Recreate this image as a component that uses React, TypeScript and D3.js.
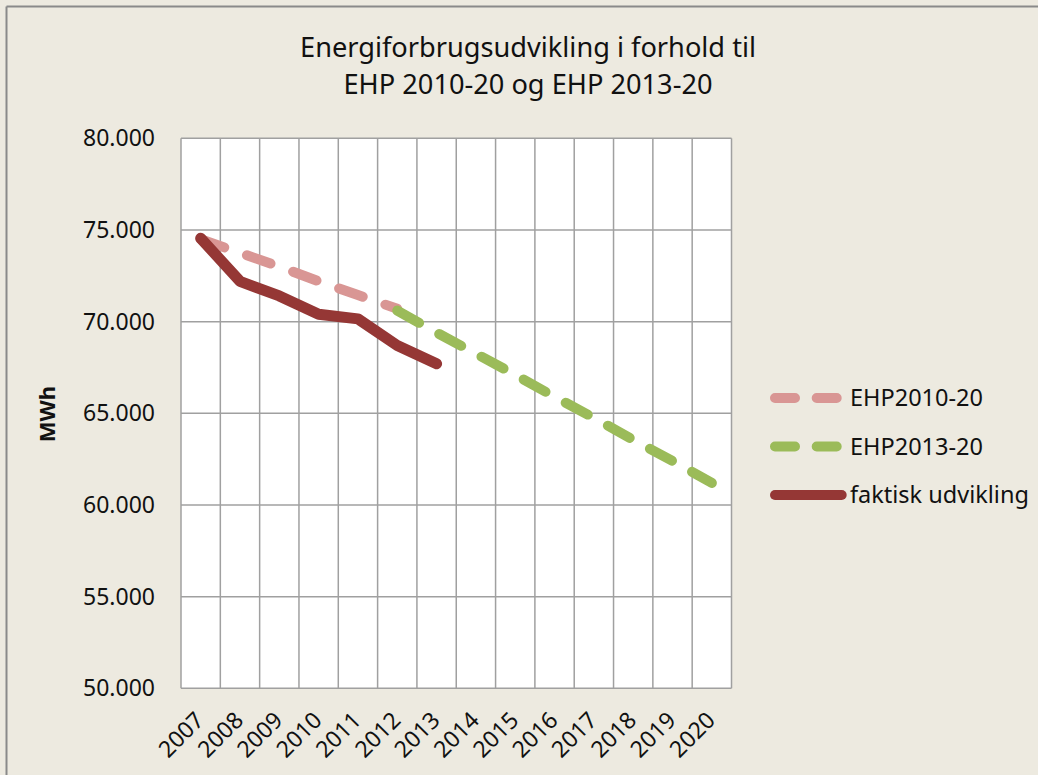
import * as d3 from "d3";

// category axis
const years = ["2007", "2008", "2009", "2010", "2011", "2012", "2013", "2014", "2015", "2016", "2017", "2018", "2019", "2020"];

// EHP2010-20 plan (2007-2012)
const ehp2010Years = ["2007", "2008", "2009", "2010", "2011", "2012"];
const ehp2010Values = [74500, 73750, 73000, 72200, 71450, 70700];

// EHP2013-20 plan (2012-2020)
const ehp2013Years = ["2012", "2013", "2014", "2015", "2016", "2017", "2018", "2019", "2020"];
const ehp2013Values = [70600, 69400, 68250, 67100, 65900, 64750, 63550, 62400, 61200];

// actual development (2007-2013)
const actualYears = ["2007", "2008", "2009", "2010", "2011", "2012", "2013"];
const actualValues = [74550, 72200, 71400, 70400, 70150, 68700, 67700];

const yTicks = [50000, 55000, 60000, 65000, 70000, 75000, 80000];

const titleLines = ["Energiforbrugsudvikling i forhold til", "EHP 2010-20 og EHP 2013-20"];

const legendItems = [
	{ label: "EHP2010-20", color: "#D99694", dash: "20 21.7" },
	{ label: "EHP2013-20", color: "#9BBB59", dash: "20 21.7" },
	{ label: "faktisk udvikling", color: "#953735", dash: null },
];

const W = 1038;
const H = 775;
const FONT = "'Noto Sans', sans-serif";

export default function App() {
	const plot = { left: 181, right: 731.5, top: 138.3, bottom: 688.3 };

	const x = d3.scaleBand<string>().domain(years).range([plot.left, plot.right]);
	const y = d3.scaleLinear().domain([50000, 80000]).range([plot.bottom, plot.top]);
	const cx = (yr: string) => (x(yr) ?? 0) + x.bandwidth() / 2;

	const line = d3
		.line<[string, number]>()
		.x((d) => cx(d[0]))
		.y((d) => y(d[1]));

	const fmt = (v: number) => d3.format(",")(v).replace(/,/g, ".");

	const vLines = years.map((yr) => x(yr) ?? 0).concat([plot.right]);

	return (
		<svg
			width={W}
			height={H}
			style={{ position: "absolute", left: 0, top: 0, background: "#EDEAE0" }}
			fontFamily={FONT}
		>
			<rect x={0} y={0} width={W} height={H} fill="#EDEAE0" />
			<line x1={6.5} y1={6.5} x2={W} y2={6.5} stroke="#8A8A8A" strokeWidth={2} />
			<line x1={6.5} y1={6.5} x2={6.5} y2={H} stroke="#8A8A8A" strokeWidth={2} />

			{titleLines.map((t, i) => (
				<text key={t} x={528} y={57 + i * 37} textAnchor="middle" fontSize={27.2} fill="#111">
					{t}
				</text>
			))}

			<rect
				x={plot.left}
				y={plot.top}
				width={plot.right - plot.left}
				height={plot.bottom - plot.top}
				fill="#fff"
			/>
			{vLines.map((vx, i) => (
				<line key={"v" + i} x1={vx} x2={vx} y1={plot.top} y2={plot.bottom} stroke="#A0A0A0" strokeWidth={1.5} />
			))}
			{yTicks.map((t) => (
				<line key={"h" + t} x1={plot.left} x2={plot.right} y1={y(t)} y2={y(t)} stroke="#A0A0A0" strokeWidth={1.5} />
			))}

			{yTicks.map((t) => (
				<text key={"yt" + t} x={155} y={y(t)} dy="0.35em" textAnchor="end" fontSize={23} fill="#111">
					{fmt(t)}
				</text>
			))}

			<text
				transform="translate(55,414) rotate(-90)"
				textAnchor="middle"
				fontSize={22}
				fontWeight="bold"
				fill="#111"
			>
				MWh
			</text>

			{years.map((yr) => (
				<text
					key={"xt" + yr}
					transform={`translate(${cx(yr) - 1},716) rotate(-45)`}
					textAnchor="end"
					dy="0.35em"
					fontSize={23}
					fill="#111"
				>
					{yr}
				</text>
			))}

			<path
				d={line(ehp2010Years.map((yr, i) => [yr, ehp2010Values[i]])) ?? ""}
				fill="none"
				stroke="#D99694"
				strokeWidth={10}
				strokeLinecap="round"
				strokeLinejoin="round"
				strokeDasharray="25 24"
			/>
			<path
				d={line(ehp2013Years.map((yr, i) => [yr, ehp2013Values[i]])) ?? ""}
				fill="none"
				stroke="#9BBB59"
				strokeWidth={10}
				strokeLinecap="round"
				strokeLinejoin="round"
				strokeDasharray="25 23"
			/>
			<path
				d={line(actualYears.map((yr, i) => [yr, actualValues[i]])) ?? ""}
				fill="none"
				stroke="#953735"
				strokeWidth={11}
				strokeLinecap="round"
				strokeLinejoin="round"
			/>

			{legendItems.map((item, i) => {
				const ly = 398 + i * 48.5;
				return (
					<g key={item.label}>
						<line
							x1={775}
							x2={item.dash ? 836.7 : 841.7}
							y1={ly}
							y2={ly}
							stroke={item.color}
							strokeWidth={10}
							strokeLinecap="round"
							strokeDasharray={item.dash ?? undefined}
						/>
						<text x={850} y={ly} dy="0.35em" fontSize={23.5} fill="#111">
							{item.label}
						</text>
					</g>
				);
			})}
		</svg>
	);
}
